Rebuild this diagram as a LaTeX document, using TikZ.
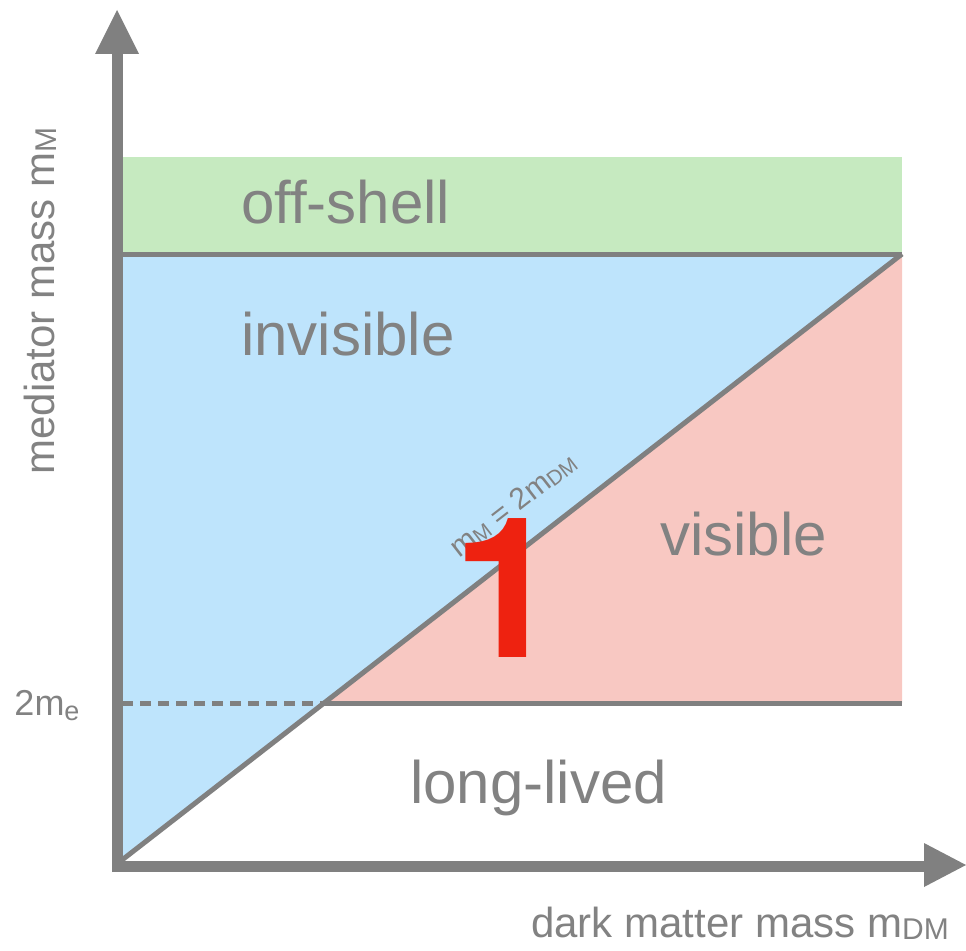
\documentclass[tikz,border=0pt]{standalone}
\usepackage{fontspec}
\setmainfont{Liberation Sans}
\newfontfamily\herosfont{TeX Gyre Heros}
\definecolor{axgray}{HTML}{808080}
\definecolor{txgray}{HTML}{828282}
\definecolor{offgreen}{HTML}{C6EAC0}
\definecolor{invblue}{HTML}{BEE4FC}
\definecolor{vispink}{HTML}{F8C8C2}
\definecolor{bigred}{HTML}{EE2210}
\newcommand\fs[1]{\fontsize{#1}{#1}\selectfont}
\tikzset{
  axisline/.style={draw=axgray, line width=11pt},
  arrowtip/.style={fill=axgray},
  bound/.style={draw=axgray, line width=5pt, line cap=butt},
  boundd/.style={draw=axgray, line width=5pt, dash pattern=on 11pt off 7pt},
  region/.style={inner sep=0pt, text=txgray, anchor=base west, font=\fs{60}},
  lbl/.style={inner sep=0pt, text=txgray},
}
\begin{document}
\begin{tikzpicture}[x=1pt, y=-1pt]
\useasboundingbox (0,0) rectangle (966,950);
% key points
\coordinate (O) at (122,860);
\coordinate (TL) at (122,254);
\coordinate (TR) at (902,254);
\coordinate (GL) at (122,157);
\coordinate (GR) at (902,157);
\coordinate (EL) at (122,703);
\coordinate (EX) at (324,703);
\coordinate (ER) at (902,703);
% regions
\fill[offgreen] (GL) rectangle (TR);
\fill[invblue] (TL) -- (TR) -- (O) -- cycle;
\fill[vispink] (EX) -- (ER) -- (TR) -- cycle;
% boundaries
\draw[bound] (TL) -- (TR);
\draw[bound] (O) -- (TR);
\draw[bound] (EX) -- (ER);
\draw[boundd] (EL) -- (EX);
% axes
\coordinate (YB) at (117,872);
\coordinate (YT) at (117,53);
\coordinate (XL) at (112,866);
\coordinate (XR) at (925,866);
\draw[axisline] (YB) -- (YT);
\draw[axisline] (XL) -- (XR);
\fill[arrowtip] (117,10) -- (95,54) -- (139,54) -- cycle;
\fill[arrowtip] (966,865) -- (924,843) -- (924,887) -- cycle;
% region labels
\node[region] (offshell) at (241,223) {off-shell};
\node[region] (invisible) at (241,355) {invisible};
\node[region] (visible) at (660,555) {visible};
\node[region] (longlived) at (410,803) {long-lived};
% diagonal label
\node[lbl, font=\fs{30}, rotate=37.8] (diag) at (513,505) {m\raisebox{-0.05em}{\fs{21}M} = 2m\raisebox{-0.05em}{\fs{21}DM}};
% big number
\node[inner sep=0pt, anchor=base, text=bigred, font=\herosfont\bfseries\fs{196}] (one) at (507,657) {1};
% axis labels
\node[lbl, font=\fs{36}, anchor=base] (twome) at (47,715) {2m\raisebox{-0.15em}{\fs{27}e}};
\node[lbl, font=\fs{42}, rotate=90] (ylab) at (40,301) {mediator mass m\raisebox{-0.05em}{\fs{30}M}};
\node[lbl, font=\fs{42}, anchor=base] (xlab) at (740,937) {dark matter mass m\raisebox{-0.05em}{\fs{30}DM}};
\end{tikzpicture}
\end{document}
